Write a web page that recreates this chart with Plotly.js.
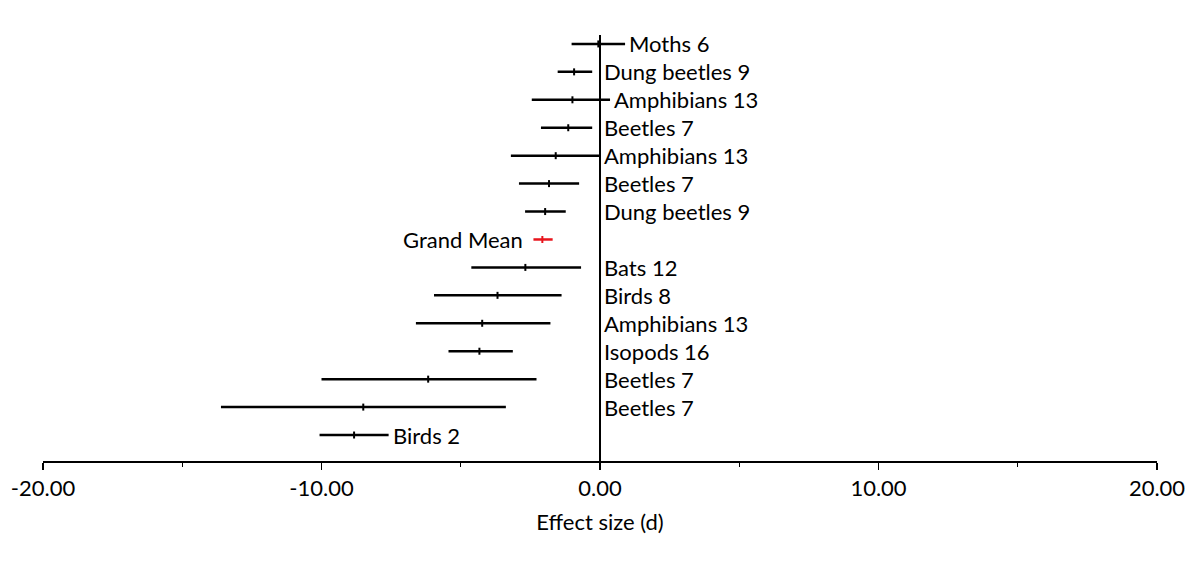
<!DOCTYPE html>
<html>
<head>
<meta charset="utf-8">
<script src="https://cdn.plot.ly/plotly-3.0.1.min.js"></script>
<style>html,body{margin:0;padding:0;background:#fff;}#chart{width:1200px;height:580px;}</style>
</head>
<body>
<div id="chart"></div>
<script>
// Rows listed from bottom to top
const labels = ["Birds 2","Beetles 7","Beetles 7","Isopods 16","Amphibians 13","Birds 8","Bats 12","Grand Mean","Dung beetles 9","Beetles 7","Amphibians 13","Beetles 7","Amphibians 13","Dung beetles 9","Moths 6"];
const means  = [-8.83,-8.50,-6.17,-4.33,-4.23,-3.68,-2.68,-2.07,-1.97,-1.83,-1.59,-1.14,-0.99,-0.93,-0.06];
const lower  = [-10.07,-13.61,-10.00,-5.44,-6.61,-5.96,-4.62,-2.39,-2.69,-2.91,-3.20,-2.12,-2.45,-1.52,-1.02];
const upper  = [-7.59,-3.38,-2.28,-3.13,-1.78,-1.38,-0.68,-1.70,-1.23,-0.75,0.00,-0.28,0.36,-0.28,0.90];
const tickVals = [-20, -10, 0, 10, 20];
const tickText = ["-20.00", "-10.00", "0.00", "10.00", "20.00"];
const isGrand = labels.map(l => l === "Grand Mean");
const rows = labels.map((_, i) => i);
const FONT = "Lato, Open Sans, sans-serif";

function subset(flag) {
  const idx = rows.filter(i => isGrand[i] === flag);
  return {
    x: idx.map(i => means[i]),
    y: idx.map(i => rows[i]),
    plus: idx.map(i => upper[i] - means[i]),
    minus: idx.map(i => means[i] - lower[i])
  };
}
const main = subset(false), gm = subset(true);

function trace(d, color) {
  return {
    type: "scatter", mode: "markers", x: d.x, y: d.y,
    marker: {symbol: "line-ns-open", size: 5, color: color, line: {color: color, width: 2}},
    error_x: {type: "data", symmetric: false, array: d.plus, arrayminus: d.minus,
              color: color, thickness: 2.5, width: 0},
    hoverinfo: "x+y", showlegend: false
  };
}

const annotations = rows.map(i => {
  if (isGrand[i]) {
    return {x: lower[i], y: rows[i], xref: "x", yref: "y", text: labels[i],
            showarrow: false, xanchor: "right", xshift: -8,
            font: {family: FONT, size: 22, color: "#000"}};
  }
  // label sits after the bar when the bar crosses zero or ends far left, otherwise just right of zero
  const anchor = (upper[i] > 0 || upper[i] < -7) ? upper[i] : 0;
  return {x: anchor, y: rows[i], xref: "x", yref: "y", text: labels[i],
          showarrow: false, xanchor: "left", xshift: 2,
          font: {family: FONT, size: 22, color: "#000"}};
});

const layout = {
  width: 1200, height: 580,
  margin: {l: 43, r: 43, t: 35, b: 119},
  paper_bgcolor: "#fff", plot_bgcolor: "#fff",
  font: {family: FONT, color: "#000"},
  xaxis: {
    range: [-20, 20], tickmode: "array", tickvals: tickVals, ticktext: tickText,
    showgrid: false, zeroline: false,
    showline: true, linecolor: "#000", linewidth: 1.5,
    ticks: "outside", ticklen: 7, tickwidth: 1.5, tickcolor: "#000",
    minor: {dtick: 5, ticks: "outside", ticklen: 4, tickcolor: "#000", tickwidth: 1},
    tickfont: {size: 22, family: FONT},
    title: {text: "Effect size (d)", font: {size: 22, family: FONT}, standoff: 14}
  },
  yaxis: {
    range: [-0.93, 14.32], showgrid: false, zeroline: false,
    showline: false, showticklabels: false, ticks: ""
  },
  shapes: [{type: "line", xref: "x", yref: "paper", x0: 0, x1: 0, y0: 0, y1: 1,
            line: {color: "#000", width: 2}}],
  annotations: annotations
};

Plotly.newPlot("chart", [trace(main, "#000"), trace(gm, "#e8141c")], layout, {staticPlot: true});
</script>
</body>
</html>
